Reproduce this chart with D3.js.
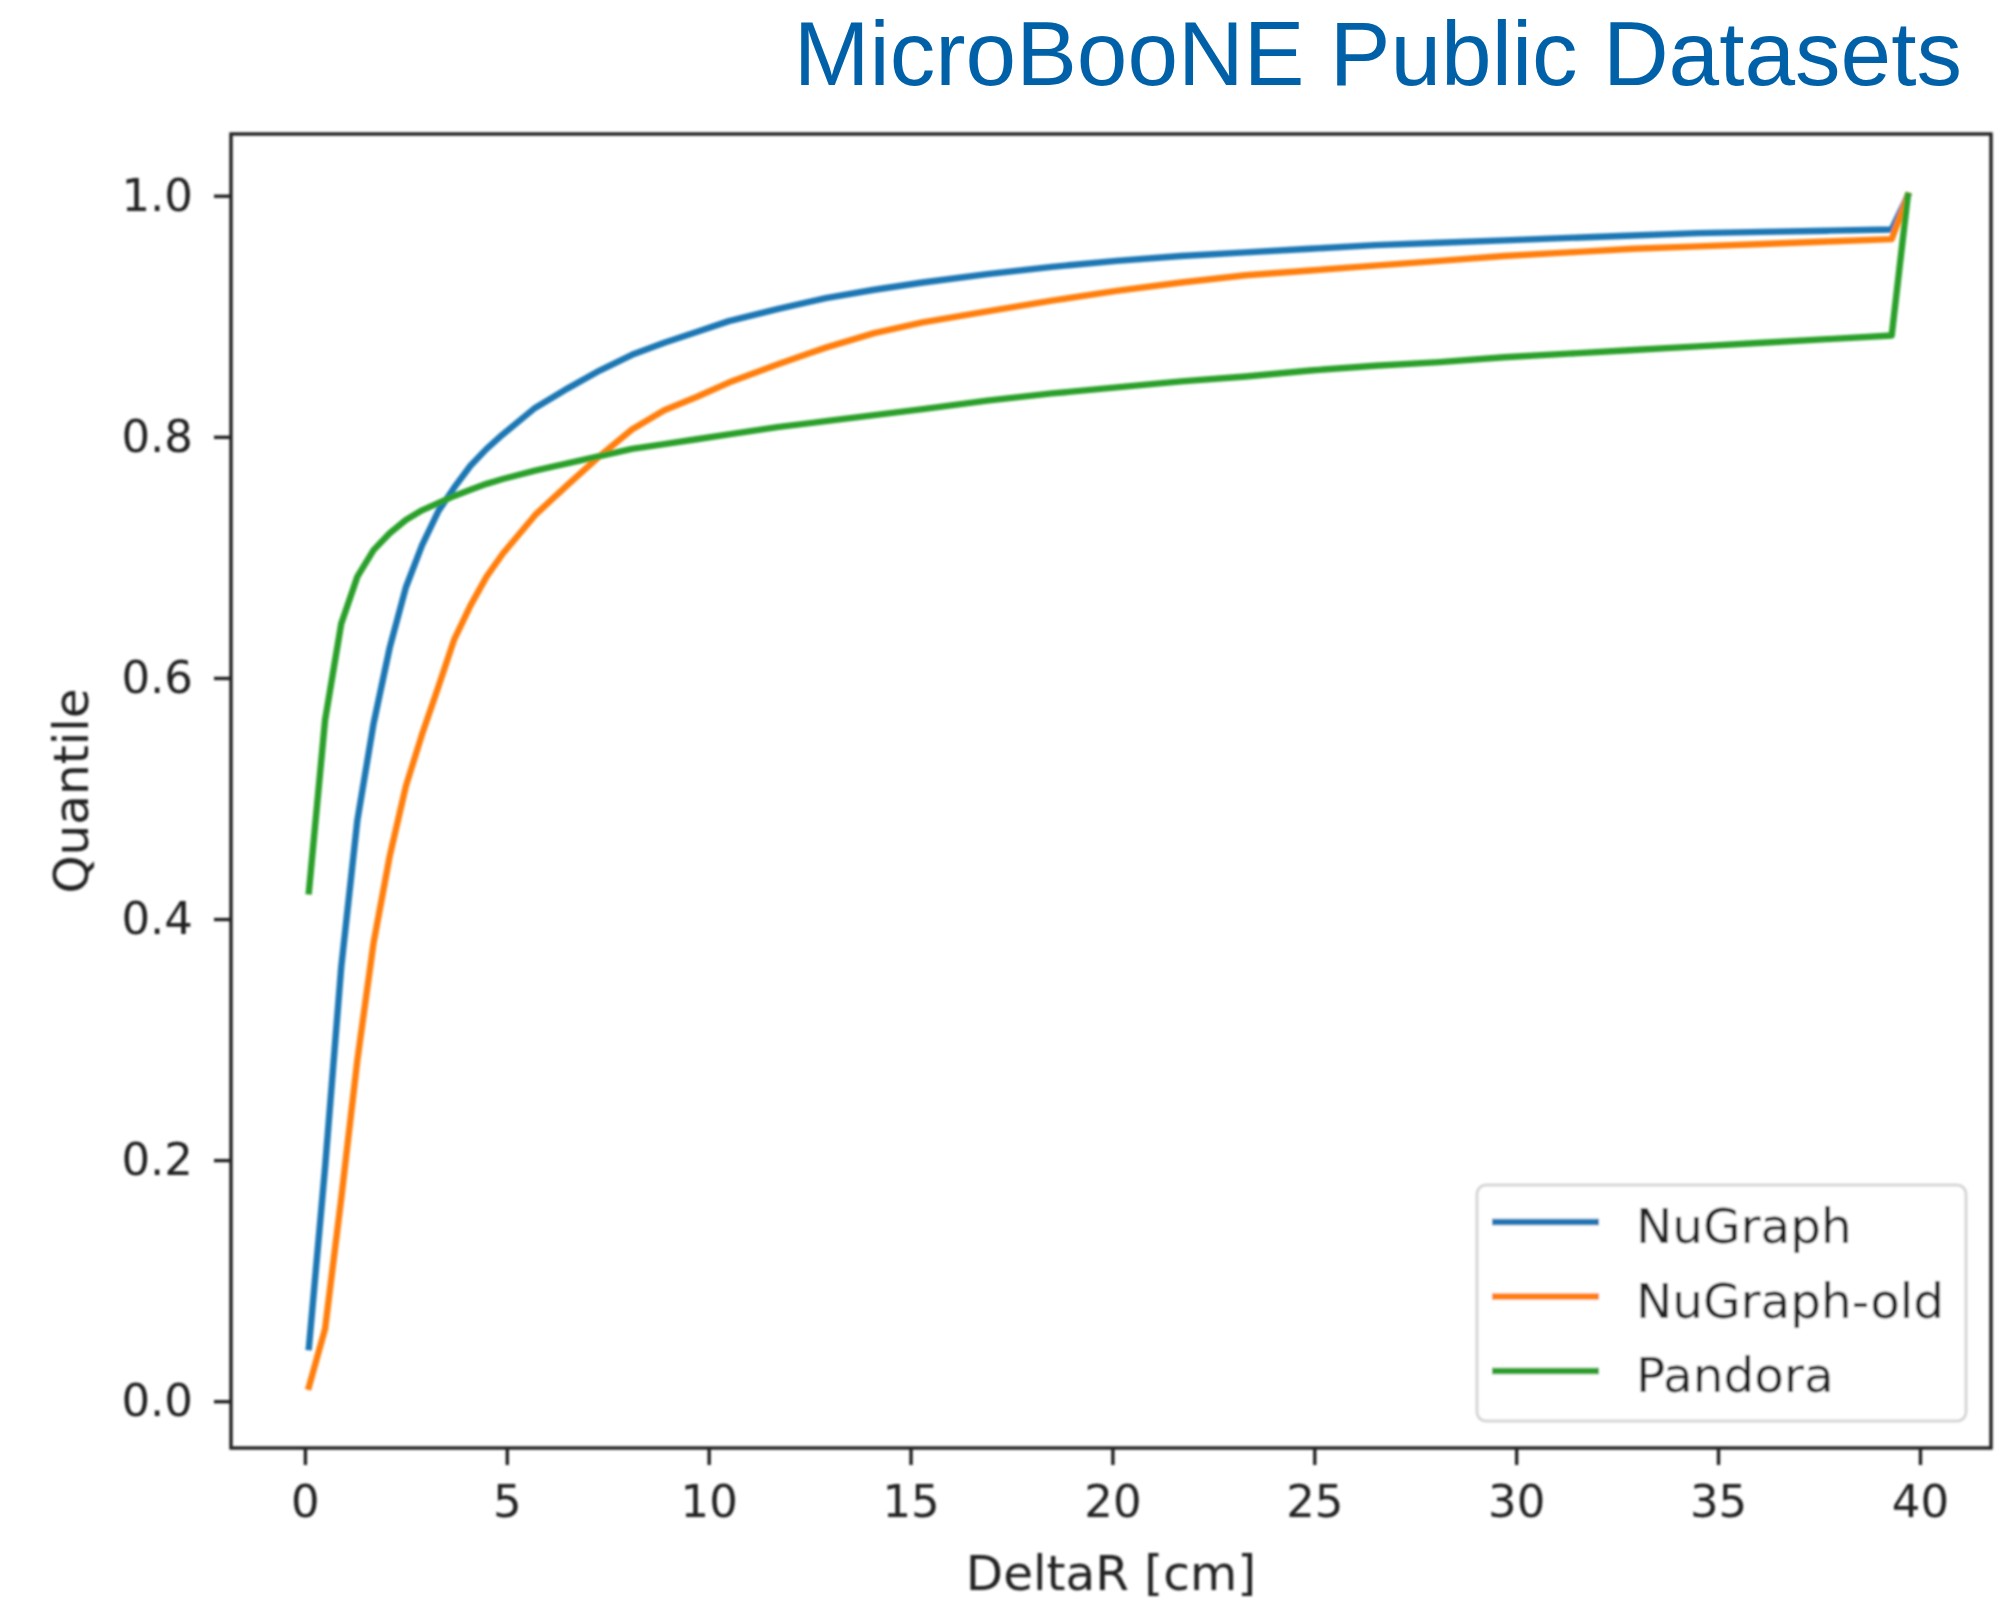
<!DOCTYPE html>
<html>
<head>
<meta charset="utf-8">
<script src="https://cdn.jsdelivr.net/npm/d3@7"></script>
<style>
  html, body { margin: 0; padding: 0; background: #ffffff; }
  svg { display: block; }
</style>
</head>
<body>
<svg id="chart" width="2008" height="1602"></svg>
<script>
// DeltaR sample positions [cm] shared by all three cumulative curves
const deltaR = [0.1, 0.5, 0.9, 1.3, 1.7, 2.1, 2.5, 2.9, 3.3, 3.7, 4.1, 4.5, 4.9,
  5.7, 6.5, 7.3, 8.1, 8.9, 9.7, 10.5, 11.7, 12.9, 14.1, 15.3, 16.9, 18.5, 20.1,
  21.7, 23.3, 24.9, 26.5, 28.1, 29.7, 31.3, 32.9, 34.5, 36.1, 37.7, 39.3, 39.7];

// Quantile (cumulative fraction) for each reconstruction
const nugraph = [0.045, 0.194, 0.360, 0.482, 0.562, 0.625, 0.675, 0.710, 0.738, 0.758, 0.776, 0.790, 0.802,
  0.824, 0.840, 0.855, 0.868, 0.878, 0.887, 0.896, 0.906, 0.915, 0.922, 0.928, 0.935, 0.941, 0.946,
  0.950, 0.953, 0.956, 0.959, 0.961, 0.963, 0.965, 0.967, 0.969, 0.970, 0.971, 0.972, 1.000];

const nugraphOld = [0.012, 0.060, 0.168, 0.283, 0.380, 0.452, 0.510, 0.553, 0.592, 0.632, 0.660, 0.684, 0.703,
  0.735, 0.760, 0.784, 0.806, 0.822, 0.833, 0.845, 0.860, 0.874, 0.886, 0.895, 0.904, 0.913, 0.921,
  0.928, 0.934, 0.938, 0.942, 0.946, 0.950, 0.953, 0.956, 0.958, 0.960, 0.962, 0.964, 1.000];

const pandora = [0.423, 0.565, 0.645, 0.684, 0.706, 0.720, 0.731, 0.739, 0.745, 0.751, 0.756, 0.761, 0.765,
  0.772, 0.778, 0.784, 0.790, 0.794, 0.798, 0.802, 0.808, 0.813, 0.818, 0.823, 0.830, 0.836, 0.841,
  0.846, 0.850, 0.855, 0.859, 0.862, 0.866, 0.869, 0.872, 0.875, 0.878, 0.881, 0.884, 1.000];

const seriesNames = ["NuGraph", "NuGraph-old", "Pandora"];
const seriesColors = ["#1f77b4", "#ff7f0e", "#2ca02c"];

const xTicks = [0, 5, 10, 15, 20, 25, 30, 35, 40];
const yTicks = [0.0, 0.2, 0.4, 0.6, 0.8, 1.0];

const titleText = "MicroBooNE Public Datasets";
const xLabel = "DeltaR [cm]";
const yLabel = "Quantile";

// ---- layout ----
const svg = d3.select("#chart");
const frame = { left: 231, top: 134, right: 1991, bottom: 1448 };
const ink = "#222222";
const mplFont = "'DejaVu Sans', sans-serif";

const x = d3.scaleLinear().domain([-1.83, 41.76]).range([frame.left, frame.right]);
const y = d3.scaleLinear().domain([-0.0388, 1.0512]).range([frame.bottom, frame.top]);

// soft rendering of the plot panel
const defs = svg.append("defs");
defs.append("filter").attr("id", "soft")
  .attr("x", "-2%").attr("y", "-2%").attr("width", "104%").attr("height", "104%")
  .append("feGaussianBlur").attr("stdDeviation", 0.8);

svg.append("rect").attr("width", 2008).attr("height", 1602).attr("fill", "#ffffff");

const panel = svg.append("g").attr("filter", "url(#soft)");

// curves
const series = [nugraph, nugraphOld, pandora];
const line = d3.line()
  .x((d, i) => x(deltaR[i]))
  .y(d => y(d));

series.forEach((vals, k) => {
  panel.append("path")
    .datum(vals)
    .attr("d", line)
    .attr("fill", "none")
    .attr("stroke", seriesColors[k])
    .attr("stroke-width", 6.4)
    .attr("stroke-linejoin", "round")
    .attr("stroke-linecap", "square");
});

// axes
const xAxis = d3.axisBottom(x).tickValues(xTicks).tickFormat(d3.format("d"))
  .tickSize(17).tickSizeOuter(0).tickPadding(20);
const yAxis = d3.axisLeft(y).tickValues(yTicks).tickFormat(d3.format(".1f"))
  .tickSize(17).tickSizeOuter(0).tickPadding(21);

const gx = panel.append("g").attr("transform", `translate(0,${frame.bottom})`).call(xAxis);
const gy = panel.append("g").attr("transform", `translate(${frame.left},0)`).call(yAxis);

[gx, gy].forEach(g => {
  g.select(".domain").remove();
  g.selectAll(".tick line").attr("stroke", ink).attr("stroke-width", 3.4);
  g.selectAll(".tick text")
    .attr("fill", ink)
    .style("font-family", mplFont)
    .style("font-size", "45px");
});

// axes frame
panel.append("rect")
  .attr("x", frame.left).attr("y", frame.top)
  .attr("width", frame.right - frame.left).attr("height", frame.bottom - frame.top)
  .attr("fill", "none").attr("stroke", ink).attr("stroke-width", 3.4);

// axis labels
panel.append("text")
  .attr("x", (frame.left + frame.right) / 2).attr("y", 1590)
  .attr("text-anchor", "middle")
  .attr("fill", ink)
  .style("font-family", mplFont).style("font-size", "48.5px")
  .text(xLabel);

panel.append("text")
  .attr("transform", `translate(88,${(frame.top + frame.bottom) / 2}) rotate(-90)`)
  .attr("text-anchor", "middle")
  .attr("fill", ink)
  .style("font-family", mplFont).style("font-size", "48.5px")
  .text(yLabel);

// legend
const legend = panel.append("g");
legend.append("rect")
  .attr("x", 1477).attr("y", 1185).attr("width", 489).attr("height", 236)
  .attr("rx", 9).attr("ry", 9)
  .attr("fill", "#ffffff").attr("fill-opacity", 0.8)
  .attr("stroke", "#d6d6d6").attr("stroke-width", 3);

const rowY = d3.scaleLinear().domain([0, 1]).range([1222, 1296.5]);
seriesNames.forEach((name, k) => {
  legend.append("line")
    .attr("x1", 1492).attr("x2", 1599)
    .attr("y1", rowY(k)).attr("y2", rowY(k))
    .attr("stroke", seriesColors[k]).attr("stroke-width", 6.4);
  legend.append("text")
    .attr("x", 1636).attr("y", rowY(k) + 21)
    .attr("fill", ink)
    .style("font-family", mplFont).style("font-size", "48.5px")
    .text(name);
});

// page title
svg.append("text")
  .attr("x", 1962).attr("y", 85)
  .attr("text-anchor", "end")
  .attr("fill", "#0061a8")
  .style("font-family", "'Liberation Sans', Arial, sans-serif")
  .style("font-size", "91px")
  .text(titleText);
</script>
</body>
</html>
